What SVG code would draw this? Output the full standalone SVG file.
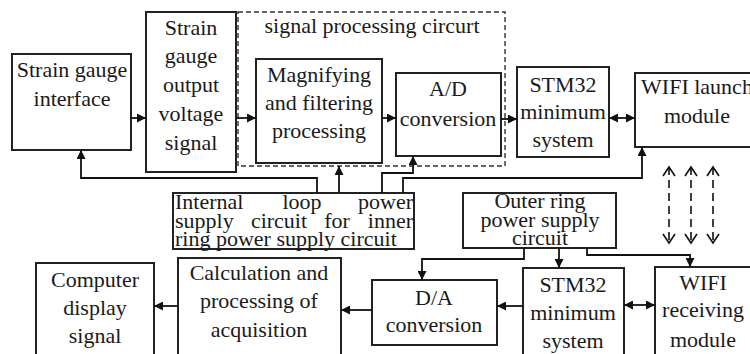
<svg xmlns="http://www.w3.org/2000/svg" width="750" height="354" viewBox="0 0 750 354">
<style>
.box{fill:#fff;stroke:#222;stroke-width:2}
text{font-family:'Liberation Serif','Times New Roman','DejaVu Serif',serif;font-size:22px;fill:#1a1a1a;text-anchor:middle}
.s{text-anchor:start}
.e{text-anchor:end}
.c{fill:none;stroke:#111;stroke-width:1.8}
.d{fill:none;stroke:#111;stroke-width:1.6;stroke-dasharray:8,5}
.grp{fill:none;stroke:#333;stroke-width:1.4;stroke-dasharray:5,3}
</style>
<defs>
<marker id="a" markerUnits="userSpaceOnUse" markerWidth="10" markerHeight="9" refX="9" refY="4.5" orient="auto-start-reverse"><path d="M0,0 L9,4.5 L0,9 z" fill="#111"/></marker>
<marker id="o" markerUnits="userSpaceOnUse" markerWidth="12" markerHeight="14" refX="10" refY="7" orient="auto-start-reverse"><path d="M1,1 L10,7 L1,13" fill="none" stroke="#111" stroke-width="1.6"/></marker>
</defs>
<rect width="750" height="354" fill="#fff"/>

<g id="signal-processing-group">
<rect class="grp" x="238" y="12" width="267" height="154"/>
<text x="372" y="33">signal processing circurt</text>
</g>

<g id="strain-gauge-interface">
<rect class="box" x="12" y="54" width="119" height="96"/>
<text x="72" y="77">Strain gauge</text>
<text x="72" y="106">interface</text>
</g>

<g id="strain-gauge-output">
<rect class="box" x="146" y="12" width="90" height="160"/>
<text x="191" y="35">Strain</text>
<text x="191" y="63">gauge</text>
<text x="191" y="92">output</text>
<text x="191" y="121">voltage</text>
<text x="191" y="150">signal</text>
</g>

<g id="magnifying">
<rect class="box" x="256" y="59" width="126" height="104"/>
<text x="319" y="82">Magnifying</text>
<text x="319" y="110">and filtering</text>
<text x="319" y="138">processing</text>
</g>

<g id="ad-conversion">
<rect class="box" x="396" y="73" width="105" height="83"/>
<text x="448" y="96">A/D</text>
<text x="448" y="126">conversion</text>
</g>

<g id="stm32-top">
<rect class="box" x="517" y="67" width="92" height="90"/>
<text x="563" y="92">STM32</text>
<text x="563" y="119">minimum</text>
<text x="563" y="147">system</text>
</g>

<g id="wifi-launch">
<rect class="box" x="635" y="73" width="125" height="74"/>
<text x="697" y="94">WIFI launch</text>
<text x="697" y="123">module</text>
</g>

<g id="internal-loop-power">
<rect class="box" x="173" y="193" width="241" height="56"/>
<text class="s" x="175" y="209">Internal</text>
<text x="302" y="209">loop</text>
<text class="e" x="413" y="209">power</text>
<text class="s" x="175" y="228">supply</text>
<text x="279" y="228">circuit</text>
<text x="337" y="228">for</text>
<text class="e" x="413" y="228">inner</text>
<text class="s" x="175" y="246">ring power supply circuit</text>
</g>

<g id="outer-ring-power">
<rect class="box" x="463" y="193" width="153" height="55"/>
<text x="540" y="208">Outer ring</text>
<text x="540" y="227">power supply</text>
<text x="540" y="245">circuit</text>
</g>

<g id="computer-display">
<rect class="box" x="36" y="263" width="118" height="100"/>
<text x="95" y="287">Computer</text>
<text x="95" y="315">display</text>
<text x="95" y="343">signal</text>
</g>

<g id="calculation">
<rect class="box" x="178" y="258" width="163" height="105"/>
<text x="259" y="280">Calculation and</text>
<text x="259" y="308">processing of</text>
<text x="259" y="337">acquisition</text>
</g>

<g id="da-conversion">
<rect class="box" x="372" y="280" width="125" height="65"/>
<text x="434" y="305">D/A</text>
<text x="434" y="332">conversion</text>
</g>

<g id="stm32-bottom">
<rect class="box" x="523" y="268" width="101" height="100"/>
<text x="573" y="292">STM32</text>
<text x="573" y="320">minimum</text>
<text x="573" y="348">system</text>
</g>

<g id="wifi-receiving">
<rect class="box" x="655" y="267" width="100" height="100"/>
<text x="703" y="290">WIFI</text>
<text x="703" y="317">receiving</text>
<text x="703" y="347">module</text>
</g>

<g id="connectors">
<path class="c" d="M131,118 H146" marker-end="url(#a)"/>
<path class="c" d="M236,118 H256" marker-end="url(#a)"/>
<path class="c" d="M382,118 H396" marker-end="url(#a)"/>
<path class="c" d="M501,119 H517" marker-end="url(#a)"/>
<path class="c" d="M609,118 H635" marker-start="url(#a)" marker-end="url(#a)"/>
<path class="c" d="M317,193 V178 H81 V150" marker-end="url(#a)"/>
<path class="c" d="M339,193 V166" marker-end="url(#a)"/>
<path class="c" d="M382,193 V173 H413 V156" marker-end="url(#a)"/>
<path class="c" d="M403,193 V178 H642 V147" marker-end="url(#a)"/>
<path class="d" d="M669,167 V243" marker-start="url(#o)" marker-end="url(#o)"/>
<path class="d" d="M691,167 V243" marker-start="url(#o)" marker-end="url(#o)"/>
<path class="d" d="M713,167 V243" marker-start="url(#o)" marker-end="url(#o)"/>
<path class="c" d="M524,248 V259 H422 V280" marker-end="url(#a)"/>
<path class="c" d="M559,248 V268" marker-end="url(#a)"/>
<path class="c" d="M587,248 V255 H690 V267" marker-end="url(#a)"/>
<path class="c" d="M523,306 H497" marker-end="url(#a)"/>
<path class="c" d="M624,305 H655" marker-start="url(#a)" marker-end="url(#a)"/>
<path class="c" d="M372,310 H341" marker-end="url(#a)"/>
<path class="c" d="M178,306 H154" marker-end="url(#a)"/>
</g>
</svg>
